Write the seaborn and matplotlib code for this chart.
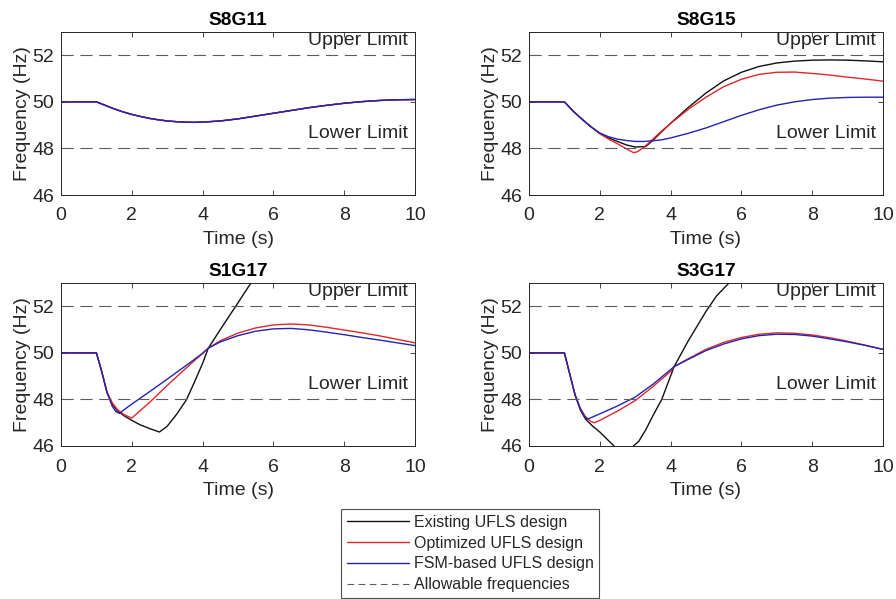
import numpy as np
import pandas as pd
import matplotlib
matplotlib.use("Agg")
import matplotlib.pyplot as plt
from matplotlib.lines import Line2D
import seaborn as sns

# ---------------- data ----------------
titles = ["S8G11", "S8G15", "S1G17", "S3G17"]
designs = ["Existing UFLS design", "Optimized UFLS design", "FSM-based UFLS design"]
limit_label = "Allowable frequencies"
upper_limit = 52
lower_limit = 48
x_ticks = [0, 2, 4, 6, 8, 10]
y_ticks = [46, 48, 50, 52]

# S8G11 (all three designs coincide)
t_s8g11 = [0, 1, 1.25, 1.5, 1.75, 2, 2.25, 2.5, 2.75, 3, 3.25, 3.5, 3.75, 4, 4.5, 5,
           5.5, 6, 6.5, 7, 7.5, 8, 8.5, 9, 9.5, 10]
f_s8g11 = [50, 50, 49.85, 49.7, 49.57, 49.46, 49.37, 49.29, 49.23, 49.18, 49.15, 49.13,
           49.12, 49.13, 49.18, 49.27, 49.39, 49.51, 49.63, 49.75, 49.85, 49.94, 50.01,
           50.06, 50.09, 50.1]

# S8G15
t_s8g15_exist = [0, 1, 1.25, 1.5, 1.75, 2, 2.25, 2.5, 2.75, 3, 3.3, 3.5, 3.75, 4, 4.5, 5,
                 5.5, 6, 6.5, 7, 7.5, 8, 8.5, 9, 9.5, 10]
f_s8g15_exist = [50, 50, 49.6, 49.25, 48.93, 48.65, 48.45, 48.3, 48.15, 48.06, 48.08, 48.35,
                 48.72, 49.08, 49.76, 50.38, 50.9, 51.27, 51.52, 51.67, 51.75, 51.79, 51.8,
                 51.79, 51.76, 51.72]
t_s8g15_opt = [0, 1, 1.25, 1.5, 1.75, 2, 2.25, 2.5, 2.75, 2.95, 3.05, 3.25, 3.5, 3.75, 4,
               4.5, 5, 5.5, 6, 6.5, 7, 7.5, 8, 8.5, 9, 9.5, 10]
f_s8g15_opt = [50, 50, 49.6, 49.25, 48.93, 48.63, 48.4, 48.2, 47.98, 47.82, 47.85, 48.05,
               48.4, 48.75, 49.07, 49.68, 50.2, 50.65, 50.97, 51.18, 51.27, 51.28, 51.22,
               51.15, 51.06, 50.98, 50.89]
t_s8g15_fsm = [0, 1, 1.25, 1.5, 1.75, 2, 2.25, 2.5, 2.75, 3, 3.25, 3.5, 3.75, 4, 4.5, 5,
               5.5, 6, 6.5, 7, 7.5, 8, 8.5, 9, 9.5, 10]
f_s8g15_fsm = [50, 50, 49.6, 49.25, 48.93, 48.66, 48.5, 48.4, 48.34, 48.3, 48.3, 48.33,
               48.37, 48.45, 48.65, 48.88, 49.15, 49.42, 49.66, 49.86, 50.0, 50.1, 50.16,
               50.19, 50.2, 50.2]

# S1G17
t_s1g17_exist = [0, 1, 1.15, 1.3, 1.45, 1.6, 1.8, 2, 2.25, 2.5, 2.78, 3, 3.27, 3.55, 3.8,
                 4, 4.16, 4.5, 5, 5.3, 5.6, 6]
f_s1g17_exist = [50, 50, 49.2, 48.3, 47.8, 47.5, 47.28, 47.1, 46.9, 46.75, 46.6, 46.85,
                 47.37, 48.0, 48.85, 49.55, 50.2, 51.0, 52.15, 52.85, 53.5, 54.2]
t_s1g17_opt = [0, 1, 1.15, 1.3, 1.45, 1.6, 1.8, 2, 2.5, 3, 3.5, 4, 4.16, 4.5, 5, 5.5, 6,
               6.5, 7, 7.5, 8, 8.5, 9, 9.5, 10]
f_s1g17_opt = [50, 50, 49.2, 48.3, 47.85, 47.55, 47.33, 47.2, 47.87, 48.6, 49.3, 49.98,
               50.2, 50.52, 50.85, 51.07, 51.2, 51.24, 51.2, 51.1, 50.98, 50.86, 50.73,
               50.58, 50.43]
t_s1g17_fsm = [0, 1, 1.15, 1.3, 1.45, 1.55, 1.65, 1.8, 2, 2.5, 3, 3.5, 4, 4.16, 4.5, 5,
               5.5, 6, 6.5, 7, 7.5, 8, 8.5, 9, 9.5, 10]
f_s1g17_fsm = [50, 50, 49.2, 48.3, 47.7, 47.48, 47.4, 47.58, 47.8, 48.33, 48.87, 49.42,
               49.98, 50.2, 50.47, 50.74, 50.93, 51.03, 51.05, 50.99, 50.89, 50.78, 50.66,
               50.55, 50.43, 50.31]

# S3G17
t_s3g17_exist = [0, 1, 1.15, 1.3, 1.45, 1.6, 1.8, 2, 2.2, 2.4, 2.7, 2.95, 3.1, 3.3, 3.5,
                 3.75, 4.1, 4.5, 5, 5.3, 5.65, 6]
f_s3g17_exist = [50, 50, 49.1, 48.2, 47.55, 47.15, 46.85, 46.6, 46.3, 46.0, 45.7, 46.0,
                 46.2, 46.7, 47.3, 48.0, 49.41, 50.52, 51.78, 52.45, 53.0, 53.5]
t_s3g17_opt = [0, 1, 1.15, 1.3, 1.45, 1.6, 1.75, 1.85, 2, 2.5, 3, 3.5, 4, 4.1, 4.5, 5, 5.5,
               6, 6.5, 7, 7.5, 8, 8.5, 9, 9.5, 10]
f_s3g17_opt = [50, 50, 49.1, 48.2, 47.62, 47.25, 47.05, 47.0, 47.1, 47.5, 47.95, 48.55,
               49.2, 49.41, 49.75, 50.15, 50.45, 50.66, 50.8, 50.86, 50.84, 50.77, 50.65,
               50.5, 50.33, 50.15]
t_s3g17_fsm = [0, 1, 1.15, 1.3, 1.45, 1.55, 1.65, 2, 2.5, 3, 3.5, 4, 4.1, 4.5, 5, 5.5, 6,
               6.5, 7, 7.5, 8, 8.5, 9, 9.5, 10]
f_s3g17_fsm = [50, 50, 49.1, 48.2, 47.6, 47.3, 47.15, 47.38, 47.72, 48.1, 48.65, 49.28,
               49.41, 49.72, 50.1, 50.38, 50.6, 50.74, 50.8, 50.79, 50.72, 50.6, 50.47,
               50.32, 50.15]

panels = {
    "S8G11": [(t_s8g11, f_s8g11), (t_s8g11, f_s8g11), (t_s8g11, f_s8g11)],
    "S8G15": [(t_s8g15_exist, f_s8g15_exist), (t_s8g15_opt, f_s8g15_opt), (t_s8g15_fsm, f_s8g15_fsm)],
    "S1G17": [(t_s1g17_exist, f_s1g17_exist), (t_s1g17_opt, f_s1g17_opt), (t_s1g17_fsm, f_s1g17_fsm)],
    "S3G17": [(t_s3g17_exist, f_s3g17_exist), (t_s3g17_opt, f_s3g17_opt), (t_s3g17_fsm, f_s3g17_fsm)],
}

# ---------------- style ----------------
sns.set_style("ticks")
plt.rcParams["font.family"] = ["Liberation Sans", "DejaVu Sans"]
colors = {designs[0]: "#111111", designs[1]: "#e3262a", designs[2]: "#2323b4"}
axis_color = "#262626"
dash_color = "#5c5c5c"
fs = 14

fig = plt.figure(figsize=(8.96, 5.99), dpi=100)
W, H = 896, 599
positions = [(61, 32), (529, 32), (61, 283), (529, 283)]
aw, ah = 354, 163

for (px, py), name in zip(positions, titles):
    ax = fig.add_axes([px / W, 1 - (py + ah) / H, aw / W, ah / H])
    rows = []
    for d, (tt, ff) in zip(designs, panels[name]):
        for a, b in zip(tt, ff):
            rows.append({"t": a, "f": b, "design": d})
    df = pd.DataFrame(rows)
    for d in designs:
        sns.lineplot(data=df[df["design"] == d], x="t", y="f", color=colors[d],
                     linewidth=1.0, sort=False, estimator=None, ax=ax, legend=False)
    for lim in (upper_limit, lower_limit):
        ax.axhline(lim, color=dash_color, linewidth=0.8, dashes=(11, 6))
    ax.text(9.8, 52.62, "Upper Limit", ha="right", va="center", fontsize=fs, color=axis_color)
    ax.text(9.8, 48.62, "Lower Limit", ha="right", va="center", fontsize=fs, color=axis_color)
    ax.set_xlim(0, 10)
    ax.set_ylim(46, 53)
    ax.set_xticks(x_ticks)
    ax.set_yticks(y_ticks)
    ax.tick_params(direction="in", length=3.5, width=0.6, colors=axis_color,
                   labelsize=fs, top=True, right=True, pad=5)
    ax.tick_params(axis="x", labeltop=False, pad=9)
    ax.tick_params(axis="y", labelright=False)
    for s in ax.spines.values():
        s.set_color(axis_color)
        s.set_linewidth(0.7)
        s.set_visible(True)
    ax.set_xlabel("Time (s)", fontsize=fs, color=axis_color, labelpad=4.5)
    ax.set_ylabel("Frequency (Hz)", fontsize=fs, color=axis_color, labelpad=1)
    ax.set_title(name, fontsize=13.8, fontweight="bold", color="black", pad=5)

handles = [Line2D([], [], color=colors[d], linewidth=1.0) for d in designs]
handles.append(Line2D([], [], color=dash_color, linewidth=0.8, dashes=(6, 4)))
labels = designs + [limit_label]
leg = fig.legend(handles, labels, loc="center", bbox_to_anchor=(0.525, 0.076),
                 fontsize=11.5, frameon=True, fancybox=False, handlelength=3.9,
                 handletextpad=0.3, labelspacing=0.36, borderpad=0.35, borderaxespad=0)
leg.get_frame().set_edgecolor("#222222")
leg.get_frame().set_linewidth(0.8)
for t in leg.get_texts():
    t.set_color(axis_color)

fig.savefig("out.png", dpi=100)
